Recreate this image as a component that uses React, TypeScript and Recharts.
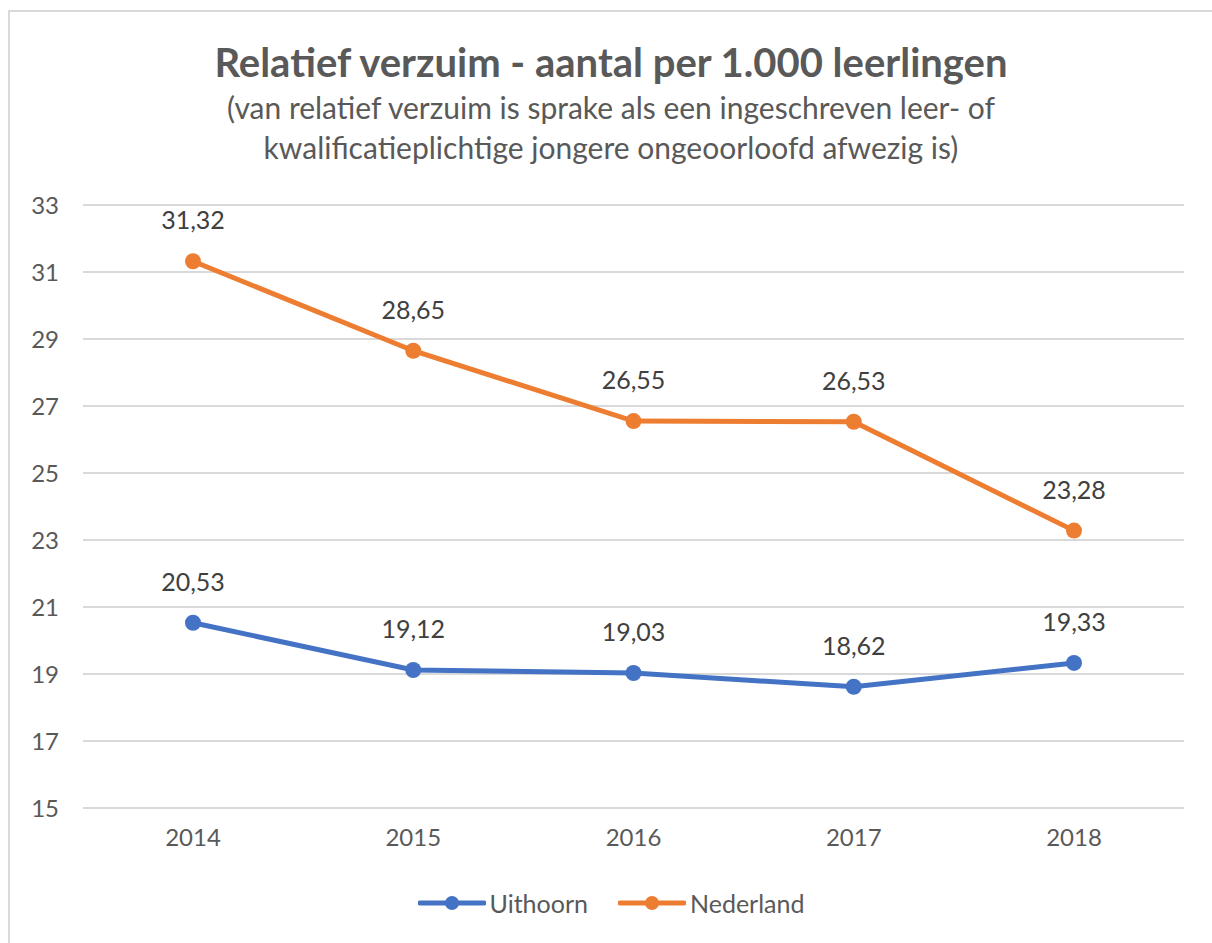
import React from "react";
import {
  LineChart,
  Line,
  XAxis,
  YAxis,
  CartesianGrid,
  LabelList,
} from "recharts";

const years = ["2014", "2015", "2016", "2017", "2018"];
const uithoorn = [20.53, 19.12, 19.03, 18.62, 19.33];
const nederland = [31.32, 28.65, 26.55, 26.53, 23.28];
const yTicks = [15, 17, 19, 21, 23, 25, 27, 29, 31, 33];

const series = [
  { key: "Uithoorn", color: "#4472C4" },
  { key: "Nederland", color: "#ED7D31" },
];

const data = years.map((year, i) => ({
  year,
  Uithoorn: uithoorn[i],
  Nederland: nederland[i],
}));

const FONT = "Lato, 'Open Sans', sans-serif";
const TEXT = "#595959";

const fmt = (v: any) => Number(v).toFixed(2).replace(".", ",");

const App: React.FC = () => {
  return (
    <div
      style={{
        position: "absolute",
        left: 8,
        top: 10,
        width: 1202,
        height: 931,
        borderLeft: "2px solid #d9d9d9",
        borderTop: "2px solid #d9d9d9",
        background: "#fff",
        fontFamily: FONT,
        color: TEXT,
      }}
    >
      <div
        style={{
          position: "absolute",
          left: 0,
          width: 1202,
          top: 26,
          textAlign: "center",
          fontSize: 40,
          fontWeight: 700,
          lineHeight: "48px",
        }}
      >
        Relatief verzuim - aantal per 1.000 leerlingen
      </div>
      <div
        style={{
          position: "absolute",
          left: 0,
          width: 1202,
          top: 75,
          textAlign: "center",
          fontSize: 30,
          lineHeight: "40px",
        }}
      >
        (van relatief verzuim is sprake als een ingeschreven leer- of
        <br />
        kwalificatieplichtige jongere ongeoorloofd afwezig is)
      </div>
      <LineChart
        width={1202}
        height={931}
        data={data}
        margin={{ top: 193, right: 28, left: 0, bottom: 105 }}
        style={{ position: "absolute", left: 0, top: 0 }}
      >
        <CartesianGrid vertical={false} stroke="#d9d9d9" strokeWidth={2} />
        <XAxis
          dataKey="year"
          axisLine={false}
          tickLine={false}
          padding={{ left: 110, right: 110 }}
          tick={{ fill: TEXT, fontSize: 24, fontFamily: FONT }}
          tickMargin={15}
        />
        <YAxis
          domain={[15, 33]}
          ticks={yTicks}
          axisLine={false}
          tickLine={false}
          width={73}
          tick={{ fill: TEXT, fontSize: 24, fontFamily: FONT }}
          tickMargin={18}
        />
        {series.map((s) => (
          <Line
            key={s.key}
            dataKey={s.key}
            stroke={s.color}
            strokeWidth={5}
            dot={{ r: 8, fill: s.color, stroke: s.color, strokeWidth: 0 }}
            isAnimationActive={false}
          >
            <LabelList
              dataKey={s.key}
              position="top"
              offset={32}
              formatter={fmt}
              style={{ fill: "#404040", fontSize: 25, fontFamily: FONT }}
            />
          </Line>
        ))}
      </LineChart>
      <div
        style={{
          position: "absolute",
          left: 0,
          width: 1202,
          top: 876,
          display: "flex",
          justifyContent: "center",
          gap: 30,
          fontSize: 25,
        }}
      >
        {series.map((s) => (
          <div key={s.key} style={{ display: "flex", alignItems: "center" }}>
            <svg width={68} height={20} style={{ marginRight: 4 }}>
              <line x1={2} y1={10} x2={66} y2={10} stroke={s.color} strokeWidth={5} strokeLinecap="round" />
              <circle cx={34} cy={10} r={7} fill={s.color} />
            </svg>
            <span>{s.key}</span>
          </div>
        ))}
      </div>
    </div>
  );
};

export default App;
